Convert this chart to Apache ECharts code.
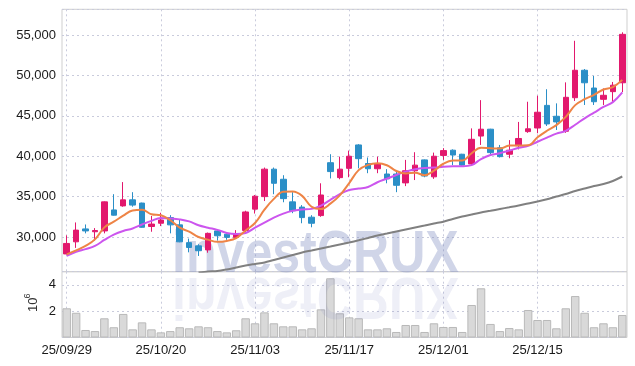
<!DOCTYPE html>
<html><head><meta charset="utf-8">
<script src="https://cdn.jsdelivr.net/npm/echarts@6/dist/echarts.min.js"></script>
<style>html,body{margin:0;padding:0;background:#fff}#c{width:635px;height:366px}</style>
</head><body><div id="c"></div>
<script>
const dates = ['25/09/29','25/09/30','25/10/01','25/10/02','25/10/10','25/10/13','25/10/14','25/10/15','25/10/16','25/10/17',
'25/10/20','25/10/21','25/10/22','25/10/23','25/10/24','25/10/27','25/10/28','25/10/29','25/10/30','25/10/31',
'25/11/03','25/11/04','25/11/05','25/11/06','25/11/07','25/11/10','25/11/11','25/11/12','25/11/13','25/11/14',
'25/11/17','25/11/18','25/11/19','25/11/20','25/11/21','25/11/24','25/11/25','25/11/26','25/11/27','25/11/28',
'25/12/01','25/12/02','25/12/03','25/12/04','25/12/05','25/12/08','25/12/09','25/12/10','25/12/11','25/12/12',
'25/12/15','25/12/16','25/12/17','25/12/18','25/12/19','25/12/22','25/12/23','25/12/24','25/12/26','25/12/29'];
const opens = [27900,29400,31000,30650,30750,33350,33850,34600,34200,31300,31700,32400,31500,29300,28900,28400,30750,30350,29950,30800,
33450,35000,38400,37150,34350,33700,32450,32650,39200,37350,38500,41400,39100,38450,37800,37800,36700,38200,39550,37450,
40100,40750,40250,39050,42500,43350,41050,40250,41300,43050,43500,46300,44950,43100,47250,50650,48450,47050,48000,49100];
const closes = [29200,30850,30750,30800,34350,32700,34600,33950,31200,31600,32100,31500,29400,28700,28300,30450,30150,29950,30400,33100,
35050,38400,36650,34750,33250,32400,31700,35200,38100,38400,40000,39700,38450,39100,37200,36400,38200,38900,37550,40000,
40700,40150,38900,42100,43350,40450,39950,40750,42200,43400,45450,44000,44250,47300,50650,49100,46750,47550,48800,55100];
const lows = [27850,28650,30450,29550,30450,32650,33750,33750,31150,30650,31350,30450,29350,28100,27650,28050,29550,29650,29750,30550,
32900,34450,35300,34300,32950,31700,31200,32500,37250,37150,37400,38500,37900,37900,36650,35550,36300,37050,37400,37200,
39550,38900,38700,38800,41400,40100,39850,39750,40850,42900,42850,43750,43250,42900,46850,46350,46350,46350,46750,47950];
const highs = [30200,31800,31550,31100,34400,35300,36800,35550,34250,32600,33000,32700,32100,29800,29100,30550,30950,30550,30850,33250,
35200,38600,38600,37650,35550,33950,32700,36650,40250,39950,40700,41500,39850,39950,38400,38300,39550,40500,39600,40450,
41000,40850,40300,43450,46950,43400,41400,42000,44250,46750,47500,48300,46550,49150,54300,50800,49950,48400,49200,55350];
const ma5 = [27850,28350,28900,29700,31190,31890,32640,33280,33360,32810,32690,32070,31160,30660,30000,29670,29400,29510,29850,30810,
31730,33380,34720,35590,35620,35090,33750,33460,34130,35160,36680,38280,38930,39130,38890,38170,37870,37960,37650,38210,
39070,39460,39460,40370,41040,40990,40950,41320,41340,41350,42350,43160,43860,44880,46330,47060,47610,48270,48570,49460];
const ma10 = [27650,28150,28500,28900,29630,30300,30750,31050,31550,32000,32350,32300,32180,31930,31450,31150,30880,30500,30380,30500,
31150,31780,32400,32900,33250,33400,33480,33880,34600,35300,35820,36000,36190,36780,37220,37680,38100,38400,38550,38600,
38700,38750,38760,38900,39650,40150,40380,40700,41050,41300,41800,42300,42800,43150,43900,44700,45400,46100,46700,47900];
const ma60 = [null,null,null,null,null,null,null,null,null,null,null,null,null,null,25600,25730,25790,25980,26220,26470,
26660,26840,27150,27460,27770,28080,28330,28580,28820,29070,29320,29590,29880,30190,30430,30680,30930,31180,31420,31670,
31890,32230,32540,32790,33030,33240,33470,33680,33900,34150,34390,34670,35010,35320,35690,36000,36310,36560,36930,37490];
const volumes = [2.22,1.88,0.57,0.49,1.46,0.78,1.79,0.62,1.15,0.62,0.39,0.49,0.78,0.70,0.85,0.78,0.49,0.39,0.55,1.46,
1.08,1.91,1.08,0.85,0.85,0.62,0.70,2.14,4.50,1.84,1.53,1.46,0.62,0.62,0.70,0.42,0.95,0.95,0.42,1.08,
0.80,0.80,0.42,2.47,3.74,1.03,0.49,0.72,0.62,2.09,1.33,1.33,0.70,2.22,3.15,1.88,0.78,1.08,0.78,1.71];
const priceTickStep = 5000;
const volumeTicks = [2, 4];

const candles = opens.map((o, i) => [o, closes[i], lows[i], highs[i]]);
const FONT = 'Liberation Sans';
const gridColor = '#c9cbdc';
const wmFont = 'bold 60px "Liberation Sans", Arial, sans-serif';

const chart = echarts.init(document.getElementById('c'), null, {renderer: 'canvas'});
chart.setOption({
  animation: false,
  backgroundColor: '#fff',
  grid: [
    {left: 62, width: 565, top: 9.3, height: 262.4, show: true, borderColor: '#cfcfcf', borderWidth: 1, backgroundColor: 'transparent'},
    {left: 62, width: 565, top: 271.7, height: 65.8, show: true, borderColor: '#cfcfcf', borderWidth: 1, backgroundColor: 'transparent'}
  ],
  xAxis: [
    {type: 'category', gridIndex: 0, data: dates, boundaryGap: true,
     axisLine: {show: false}, axisTick: {show: false, interval: 9, alignWithLabel: true}, axisLabel: {show: false, interval: 9},
     splitLine: {show: true, interval: 9, alignWithLabel: true, lineStyle: {color: gridColor, type: [2, 3], width: 1}}},
    {type: 'category', gridIndex: 1, data: dates, boundaryGap: true,
     axisLine: {show: false}, axisTick: {show: false, interval: 9, alignWithLabel: true},
     axisLabel: {show: true, interval: 9, fontFamily: FONT, fontSize: 13, color: '#1a1a1a', margin: 6},
     splitLine: {show: true, interval: 9, alignWithLabel: true, lineStyle: {color: gridColor, type: [2, 3], width: 1}}}
  ],
  yAxis: [
    {type: 'value', gridIndex: 0, min: 25700, max: 58200, splitNumber: 5, scale: true,
     axisLine: {show: false}, axisTick: {show: false},
     axisLabel: {fontFamily: FONT, fontSize: 13, color: '#1a1a1a', margin: 6,
       formatter: v => (v % priceTickStep === 0) ? v.toLocaleString('en-US') : ''},
     splitLine: {show: true, lineStyle: {color: gridColor, type: [2, 3], width: 1}}},
    {type: 'value', gridIndex: 1, min: 0, max: 5, interval: 2,
     axisLine: {show: false}, axisTick: {show: false},
     axisLabel: {fontFamily: FONT, fontSize: 13, color: '#1a1a1a', margin: 6,
       formatter: v => volumeTicks.indexOf(v) >= 0 ? String(v) : ''},
     splitLine: {show: true, lineStyle: {color: gridColor, type: [2, 3], width: 1}}}
  ],
  series: [
    {type: 'bar', xAxisIndex: 1, yAxisIndex: 1, data: volumes, z: 1, barCategoryGap: '10%',
     itemStyle: {color: '#d9d9d9', borderColor: '#b9b9b9', borderWidth: 1}},
    {type: 'candlestick', xAxisIndex: 0, yAxisIndex: 0, data: candles, z: 3, barWidth: 6,
     itemStyle: {color: '#e2186d', color0: '#2b8fc7', borderColor: '#e2186d', borderColor0: '#2b8fc7', borderWidth: 1}},
    {type: 'line', xAxisIndex: 0, yAxisIndex: 0, data: ma60, z: 4, symbol: 'none', smooth: 0.3,
     lineStyle: {color: '#808080', width: 2}},
    {type: 'line', xAxisIndex: 0, yAxisIndex: 0, data: ma10, z: 4, symbol: 'none', smooth: 0.4,
     lineStyle: {color: '#cc55ee', width: 2}},
    {type: 'line', xAxisIndex: 0, yAxisIndex: 0, data: ma5, z: 4, symbol: 'none', smooth: 0.4,
     lineStyle: {color: '#ee8446', width: 2}}
  ],
  graphic: [
    {type: 'group', x: 172, y: 275, scaleX: 0.835, z: 2, silent: true, children: [
      {type: 'text', z: 2, style: {text: 'investCRUX', x: 0, y: -20, font: wmFont, fill: 'rgba(120,135,190,0.35)', verticalAlign: 'middle', align: 'left'}},
      {type: 'text', z: 2, scaleY: -1, style: {text: 'investCRUX', x: 0, y: -20, font: wmFont, fill: 'rgba(120,135,190,0.13)', verticalAlign: 'middle', align: 'left'}}
    ]},
    {type: 'text', x: 33, y: 312, rotation: Math.PI / 2, z: 5, style: {text: '10', font: '13px "Liberation Sans"', fill: '#333', align: 'left', verticalAlign: 'middle'}},
    {type: 'text', x: 27.5, y: 298.5, rotation: Math.PI / 2, z: 5, style: {text: '6', font: '9px "Liberation Sans"', fill: '#333', align: 'left', verticalAlign: 'middle'}}
  ]
});
</script></body></html>
